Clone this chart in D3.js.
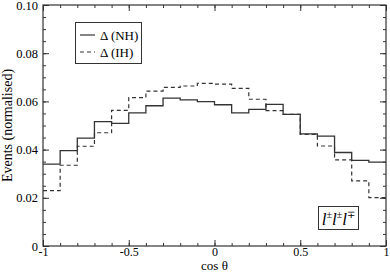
<!DOCTYPE html>
<html lang="en">
<head>
  <meta charset="UTF-8">
  <title>cos theta distribution</title>
  <style>
  body { margin: 0; background: #fff; }
  #chart text { font-family: "Liberation Serif", "DejaVu Serif", serif; fill: #000; }
  </style>
</head>
<body>
  <div id="chart"></div>
  <script src="https://cdn.jsdelivr.net/npm/d3@7/dist/d3.min.js"></script>
  <script>
    // bin edges of cos(theta), 20 bins of width 0.1
    const binEdges = d3.range(-10, 11).map(d => d / 10);
    const nhValues = [0.0340, 0.0396, 0.0448, 0.0516, 0.0509, 0.0552, 0.0582, 0.0614, 0.0606, 0.0599,
                      0.0586, 0.0552, 0.0567, 0.0588, 0.0546, 0.0465, 0.0456, 0.0388, 0.0355, 0.0348];
    const ihValues = [0.0230, 0.0335, 0.0414, 0.0470, 0.0563, 0.0616, 0.0643, 0.0658, 0.0664, 0.0675,
                      0.0672, 0.0654, 0.0609, 0.0562, 0.0546, 0.0463, 0.0415, 0.0357, 0.0270, 0.0201];
    const xTicks = [-1, -0.5, 0, 0.5, 1];
    const xTickLabels = ['-1', '-0.5', '0', '0.5', '1'];
    const yTicks = [0, 0.02, 0.04, 0.06, 0.08, 0.10];
    const yTickLabels = ['0', '0.02', '0.04', '0.06', '0.08', '0.10'];

    const width = 390, height = 273;
    const margin = {top: 5, right: 4, bottom: 27, left: 43};

    const svg = d3.select('#chart').append('svg')
      .attr('width', width)
      .attr('height', height);

    const x = d3.scaleLinear().domain([-1, 1]).range([margin.left, width - margin.right]);
    const y = d3.scaleLinear().domain([0, 0.10]).range([height - margin.bottom, margin.top]);

    const minorX = d3.range(-10, 11).map(d => d / 10);
    const minorY = d3.range(0, 21).map(d => d * 0.005);

    // axes, ticks pointing inward on all four sides
    function styleAxis(g) {
      g.select('.domain').remove();
      g.selectAll('line').attr('stroke', '#333').attr('stroke-width', 1);
    }
    const plotBottom = height - margin.bottom, plotTop = margin.top;
    const plotLeft = margin.left, plotRight = width - margin.right;

    svg.append('g').attr('transform', `translate(0,${plotBottom})`)
      .call(d3.axisBottom(x).tickValues(minorX).tickSize(-3).tickFormat(''))
      .call(styleAxis);
    svg.append('g').attr('transform', `translate(0,${plotBottom})`)
      .call(d3.axisBottom(x).tickValues(xTicks).tickSize(-6).tickPadding(1.5)
        .tickFormat((d, i) => xTickLabels[i]))
      .call(styleAxis)
      .call(g => g.selectAll('text').attr('font-size', 12));
    svg.append('g').attr('transform', `translate(0,${plotTop})`)
      .call(d3.axisTop(x).tickValues(minorX).tickSize(-3).tickFormat(''))
      .call(styleAxis);
    svg.append('g').attr('transform', `translate(0,${plotTop})`)
      .call(d3.axisTop(x).tickValues(xTicks).tickSize(-6).tickFormat(''))
      .call(styleAxis);

    svg.append('g').attr('transform', `translate(${plotLeft},0)`)
      .call(d3.axisLeft(y).tickValues(minorY).tickSize(-3).tickFormat(''))
      .call(styleAxis);
    svg.append('g').attr('transform', `translate(${plotLeft},0)`)
      .call(d3.axisLeft(y).tickValues(yTicks).tickSize(-6).tickPadding(5)
        .tickFormat((d, i) => yTickLabels[i]))
      .call(styleAxis)
      .call(g => g.selectAll('text').attr('font-size', 12.5));
    svg.append('g').attr('transform', `translate(${plotRight},0)`)
      .call(d3.axisRight(y).tickValues(minorY).tickSize(-3).tickFormat(''))
      .call(styleAxis);
    svg.append('g').attr('transform', `translate(${plotRight},0)`)
      .call(d3.axisRight(y).tickValues(yTicks).tickSize(-6).tickFormat(''))
      .call(styleAxis);

    svg.append('rect')
      .attr('x', plotLeft).attr('y', plotTop)
      .attr('width', plotRight - plotLeft).attr('height', plotBottom - plotTop)
      .attr('fill', 'none').attr('stroke', '#333').attr('stroke-width', 1.2);

    // histograms as step lines
    const step = d3.line()
      .x(d => x(d[0]))
      .y(d => y(d[1]))
      .curve(d3.curveStepAfter);

    function histPoints(vals) {
      const pts = vals.map((v, i) => [binEdges[i], v]);
      pts.push([binEdges[vals.length], vals[vals.length - 1]]);
      return pts;
    }

    svg.append('path')
      .attr('d', step(histPoints(ihValues)))
      .attr('fill', 'none').attr('stroke', '#333').attr('stroke-width', 1.2)
      .attr('stroke-dasharray', '4,3');
    svg.append('path')
      .attr('d', step(histPoints(nhValues)))
      .attr('fill', 'none').attr('stroke', '#333').attr('stroke-width', 1.3);

    // legend
    const legend = svg.append('g');
    legend.append('rect')
      .attr('x', 75.5).attr('y', 22.5).attr('width', 66).attr('height', 41)
      .attr('fill', '#fff').attr('stroke', '#333').attr('stroke-width', 1);
    const entries = [
      {label: '\u0394 (NH)', dash: null},
      {label: '\u0394 (IH)', dash: '4,3'}
    ];
    entries.forEach((e, i) => {
      const yy = 35 + i * 17;
      legend.append('line')
        .attr('x1', 80).attr('x2', 95).attr('y1', yy).attr('y2', yy)
        .attr('stroke', '#333').attr('stroke-width', 1.2)
        .attr('stroke-dasharray', e.dash);
      legend.append('text')
        .attr('x', 100).attr('y', yy + 4.5)
        .attr('font-size', 13)
        .text(e.label);
    });

    // channel label
    svg.append('rect')
      .attr('x', 318.5).attr('y', 206.5).attr('width', 40).attr('height', 23)
      .attr('fill', '#fff').attr('stroke', '#333').attr('stroke-width', 1);
    const chan = svg.append('text')
      .attr('x', 338.5).attr('y', 225)
      .attr('text-anchor', 'middle')
      .attr('font-size', 17);
    const sups = ['\u00b1', '\u00b1', '\u2213'];
    sups.forEach((s, i) => {
      chan.append('tspan').attr('font-style', 'italic').attr('dy', i === 0 ? 0 : 7).text('l');
      chan.append('tspan').attr('font-size', 10).attr('dy', -7).text(s);
    });

    // axis titles
    svg.append('text')
      .attr('x', (plotLeft + plotRight) / 2).attr('y', 270)
      .attr('text-anchor', 'middle')
      .attr('font-size', 13)
      .text('cos \u03b8');
    svg.append('text')
      .attr('transform', `translate(12,${(plotTop + plotBottom) / 2}) rotate(-90)`)
      .attr('text-anchor', 'middle')
      .attr('font-size', 14)
      .text('Events (normalised)');
  </script>
</body>
</html>
